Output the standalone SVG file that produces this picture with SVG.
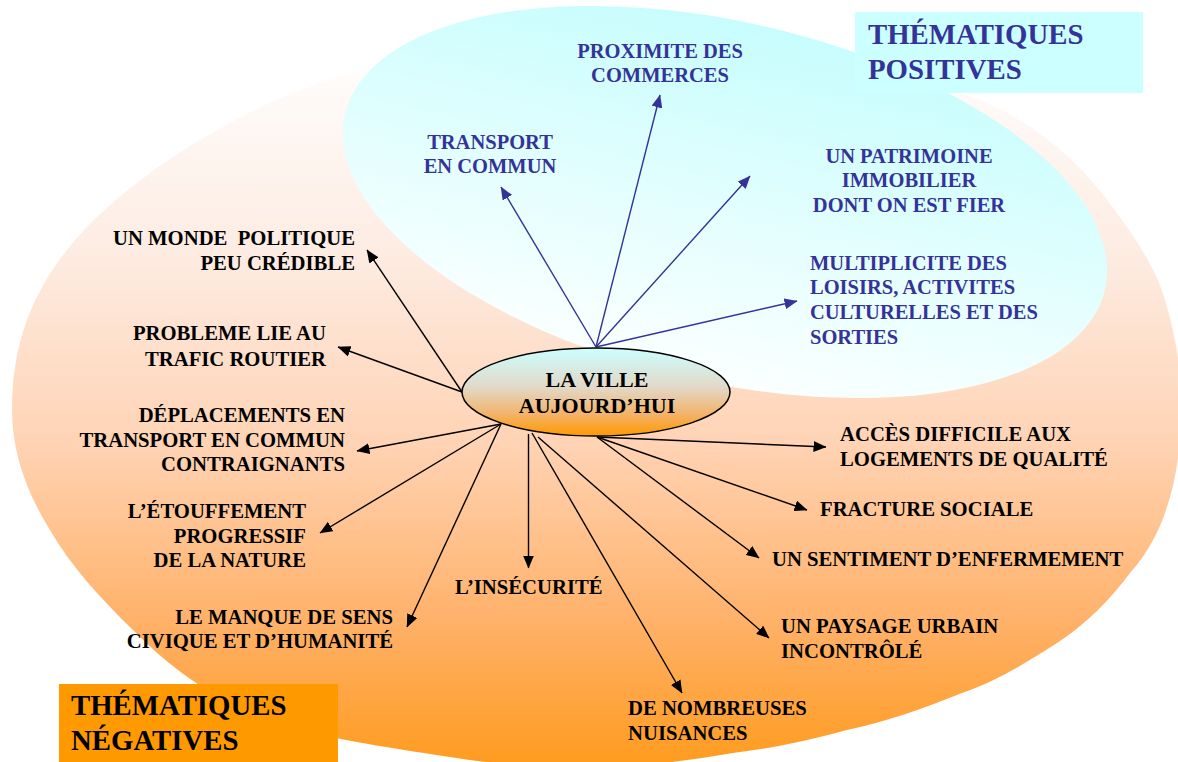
<svg xmlns="http://www.w3.org/2000/svg" width="1178" height="762" viewBox="0 0 1178 762">
<style>
.lb{font-family:"Liberation Serif","Times New Roman",serif;font-weight:bold;font-size:20.7px;fill:#000}
.bl{font-family:"Liberation Serif","Times New Roman",serif;font-weight:bold;font-size:20.5px;fill:#333399}
.hd{font-family:"Liberation Serif","Times New Roman",serif;font-weight:bold;font-size:28.8px}
.ct{font-family:"Liberation Serif","Times New Roman",serif;font-weight:bold;font-size:22px;fill:#000}
.ck{stroke:#000;stroke-width:1.4;fill:none;marker-end:url(#ak)}
.cb{stroke:#333399;stroke-width:1.4;fill:none;marker-end:url(#ab)}
</style>
<defs>
<linearGradient id="gOr" gradientUnits="userSpaceOnUse" x1="0" y1="40" x2="0" y2="775">
<stop offset="0" stop-color="#ffffff"/>
<stop offset="0.3" stop-color="#fdebe1"/>
<stop offset="0.55" stop-color="#ffd3b4"/>
<stop offset="0.8" stop-color="#ffb066"/>
<stop offset="1" stop-color="#ff9a1a"/>
</linearGradient>
<linearGradient id="gCy" x1="0" y1="0" x2="0" y2="1">
<stop offset="0" stop-color="#c8fdfd"/>
<stop offset="1" stop-color="#fbffff"/>
</linearGradient>
<linearGradient id="gCt" x1="0" y1="0" x2="0" y2="1">
<stop offset="0" stop-color="#ccffff"/>
<stop offset="0.45" stop-color="#e2d8c8"/>
<stop offset="0.75" stop-color="#f3b36a"/>
<stop offset="1" stop-color="#ff9900"/>
</linearGradient>
<marker id="ak" viewBox="0 0 13 11" refX="12.5" refY="5.5" markerWidth="13" markerHeight="11" markerUnits="userSpaceOnUse" orient="auto">
<path d="M0,0 L13,5.5 L0,11 z" fill="#000"/>
</marker>
<marker id="ab" viewBox="0 0 13 11" refX="12.5" refY="5.5" markerWidth="13" markerHeight="11" markerUnits="userSpaceOnUse" orient="auto">
<path d="M0,0 L13,5.5 L0,11 z" fill="#333399"/>
</marker>
</defs>

<g id="background">
<path id="negative-area" fill="url(#gOr)" d="M12,410 C12,340 35,290 67,250 C100,208 150,170 200,140 C250,110 300,85 367,70 C470,45 600,32 700,38 C800,45 900,70 980,100 C1040,125 1080,165 1105,197 C1130,230 1155,265 1165,300 C1180,350 1185,400 1180,440 C1175,495 1160,540 1130,573 C1110,600 1085,625 1057,643 C1030,660 1000,680 962,693 C925,708 885,722 847,730 C810,740 775,748 733,753 C680,762 630,768 580,768 C535,768 495,764 450,757 C385,747 320,738 267,720 C215,700 170,668 133,630 C100,598 70,565 50,530 C25,490 12,450 12,410 Z"/>
<ellipse id="positive-area" cx="725" cy="202" rx="390" ry="180" transform="rotate(13 725 202)" fill="url(#gCy)"/>
</g>

<g id="title-positive">
<rect x="855" y="12" width="288" height="81" fill="#ccffff"/>
<text class="hd" fill="#333399" x="868" y="44">THÉMATIQUES</text>
<text class="hd" fill="#333399" x="868" y="79">POSITIVES</text>
</g>

<g id="title-negative">
<rect x="59" y="684" width="279" height="78" fill="#ff9900"/>
<text class="hd" fill="#000" x="71" y="715">THÉMATIQUES</text>
<text class="hd" fill="#000" x="71" y="750">NÉGATIVES</text>
</g>

<g id="connectors">
<line class="cb" x1="596" y1="347" x2="501" y2="187"/>
<line class="cb" x1="596" y1="347" x2="660" y2="95"/>
<line class="cb" x1="596" y1="347" x2="750" y2="176"/>
<line class="cb" x1="596" y1="347" x2="797" y2="301"/>
<line class="ck" x1="462" y1="392" x2="367" y2="250"/>
<line class="ck" x1="462" y1="392" x2="338" y2="347"/>
<line class="ck" x1="501" y1="424" x2="357" y2="451"/>
<line class="ck" x1="501" y1="424" x2="320" y2="533"/>
<line class="ck" x1="501" y1="424" x2="407" y2="627"/>
<line class="ck" x1="528.5" y1="434" x2="528.5" y2="568"/>
<line class="ck" x1="532" y1="433" x2="682" y2="693"/>
<line class="ck" x1="538" y1="437" x2="769" y2="638"/>
<line class="ck" x1="597" y1="437" x2="826" y2="447"/>
<line class="ck" x1="597" y1="437" x2="807" y2="510"/>
<line class="ck" x1="597" y1="437" x2="759" y2="558"/>
</g>

<g id="center">
<ellipse cx="596" cy="392" rx="134" ry="44" fill="url(#gCt)" stroke="#000" stroke-width="1.5"/>
<text class="ct" x="597" y="387" text-anchor="middle">LA VILLE</text>
<text class="ct" x="597" y="413" text-anchor="middle">AUJOURD’HUI</text>
</g>

<g id="pos-transport">
<text class="bl" x="490" y="149" text-anchor="middle">TRANSPORT</text>
<text class="bl" x="490" y="173" text-anchor="middle">EN COMMUN</text>
</g>
<g id="pos-proximite">
<text class="bl" x="660" y="58" text-anchor="middle">PROXIMITE DES</text>
<text class="bl" x="660" y="82" text-anchor="middle">COMMERCES</text>
</g>
<g id="pos-patrimoine">
<text class="bl" x="909" y="163" text-anchor="middle">UN PATRIMOINE</text>
<text class="bl" x="909" y="187" text-anchor="middle">IMMOBILIER</text>
<text class="bl" x="909" y="212" text-anchor="middle">DONT ON EST FIER</text>
</g>
<g id="pos-loisirs">
<text class="bl" x="810" y="270">MULTIPLICITE DES</text>
<text class="bl" x="810" y="294">LOISIRS, ACTIVITES</text>
<text class="bl" x="810" y="319">CULTURELLES ET DES</text>
<text class="bl" x="810" y="344">SORTIES</text>
</g>

<g id="neg-politique">
<text class="lb" x="355" y="245" text-anchor="end" xml:space="preserve">UN MONDE  POLITIQUE</text>
<text class="lb" x="355" y="270" text-anchor="end">PEU CRÉDIBLE</text>
</g>
<g id="neg-trafic">
<text class="lb" x="326" y="340" text-anchor="end">PROBLEME LIE AU</text>
<text class="lb" x="326" y="366" text-anchor="end">TRAFIC ROUTIER</text>
</g>
<g id="neg-deplacements">
<text class="lb" x="345" y="422" text-anchor="end">DÉPLACEMENTS EN</text>
<text class="lb" x="345" y="447" text-anchor="end">TRANSPORT EN COMMUN</text>
<text class="lb" x="345" y="471" text-anchor="end">CONTRAIGNANTS</text>
</g>
<g id="neg-nature">
<text class="lb" x="306" y="518" text-anchor="end">L’ÉTOUFFEMENT</text>
<text class="lb" x="306" y="543" text-anchor="end">PROGRESSIF</text>
<text class="lb" x="306" y="567" text-anchor="end">DE LA NATURE</text>
</g>
<g id="neg-civique">
<text class="lb" x="393" y="624" text-anchor="end">LE MANQUE DE SENS</text>
<text class="lb" x="393" y="648" text-anchor="end">CIVIQUE ET D’HUMANITÉ</text>
</g>
<g id="neg-insecurite">
<text class="lb" x="455" y="594">L’INSÉCURITÉ</text>
</g>
<g id="neg-nuisances">
<text class="lb" x="628" y="715">DE NOMBREUSES</text>
<text class="lb" x="628" y="740">NUISANCES</text>
</g>
<g id="neg-paysage">
<text class="lb" x="781" y="633">UN PAYSAGE URBAIN</text>
<text class="lb" x="781" y="658">INCONTRÔLÉ</text>
</g>
<g id="neg-enfermement">
<text class="lb" x="772" y="566">UN SENTIMENT D’ENFERMEMENT</text>
</g>
<g id="neg-fracture">
<text class="lb" x="820" y="516">FRACTURE SOCIALE</text>
</g>
<g id="neg-logement">
<text class="lb" x="840" y="441">ACCÈS DIFFICILE AUX</text>
<text class="lb" x="840" y="466">LOGEMENTS DE QUALITÉ</text>
</g>
</svg>
